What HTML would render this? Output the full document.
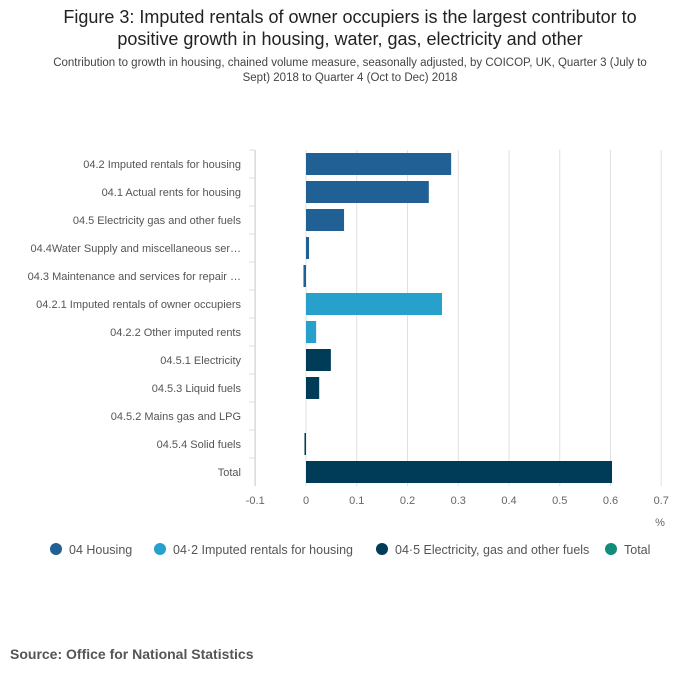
<!DOCTYPE html>
<html><head><meta charset="utf-8">
<style>
body{margin:0;background:#fff;font-family:"Liberation Sans",sans-serif;}
#wrap{position:relative;width:700px;height:682px;overflow:hidden;}
h1{position:absolute;left:40px;top:6px;width:620px;margin:0;text-align:center;font-size:18px;font-weight:normal;color:#222;line-height:22px;}
.sub{position:absolute;left:50px;top:56px;width:600px;text-align:center;font-size:11.5px;color:#444;line-height:15px;}
.src{position:absolute;left:10px;top:646px;font-size:14px;font-weight:bold;color:#555;}
</style></head><body>
<div id="wrap">
<h1>Figure 3: Imputed rentals of owner occupiers is the largest contributor to positive growth in housing, water, gas, electricity and other</h1>
<div class="sub">Contribution to growth in housing, chained volume measure, seasonally adjusted, by COICOP, UK, Quarter 3 (July to Sept) 2018 to Quarter 4 (Oct to Dec) 2018</div>
<svg id="chart" width="700" height="682" style="position:absolute;left:0;top:0"></svg>
<div class="src">Source: Office for National Statistics</div>
</div>
<script>
const categories=["04.2 Imputed rentals for housing","04.1 Actual rents for housing","04.5 Electricity gas and other fuels","04.4Water Supply and miscellaneous ser…","04.3 Maintenance and services for repair …","04.2.1 Imputed rentals of owner occupiers","04.2.2 Other imputed rents","04.5.1 Electricity","04.5.3 Liquid fuels","04.5.2 Mains gas and LPG","04.5.4 Solid fuels","Total"];
const values=[0.286,0.242,0.075,0.006,-0.005,0.268,0.02,0.049,0.026,0,-0.003,0.603];
const groups=[0,0,0,0,0,1,1,2,2,2,2,2];
const ticks=[-0.1,0,0.1,0.2,0.3,0.4,0.5,0.6,0.7];
const tickLabels=["-0.1","0","0.1","0.2","0.3","0.4","0.5","0.6","0.7"];
const legendLabels=["04 Housing","04·2 Imputed rentals for housing","04·5 Electricity, gas and other fuels","Total"];
const colors=["#206095","#27a0cc","#003c57","#118c7b"];
const svg=document.getElementById('chart');
const NS="http://www.w3.org/2000/svg";
const x=v=>306+(v)*507.5;
const y=i=>150+i*28;
function mk(t,a){const e=document.createElementNS(NS,t);for(const k in a)e.setAttribute(k,a[k]);svg.appendChild(e);return e;}
ticks.forEach((t,i)=>{
 const g=mk('line',{x1:x(t),x2:x(t),y1:150,y2:486,stroke:'#e0e0e0','stroke-width':1});
 
 
 const tl=mk('text',{x:x(t),y:504,'text-anchor':'middle','font-size':11,fill:'#666'});
 tl.textContent=tickLabels[i];
 
 
});
const ax=mk('line',{x1:255,x2:255,y1:150,y2:486,stroke:'#ccc'});


const unit=mk('text',{x:660,y:526,'text-anchor':'middle','font-size':11,fill:'#666'});
unit.textContent='%';


categories.forEach((c,i)=>{
 const tk=mk('line',{x1:249,x2:255,y1:y(i),y2:y(i),stroke:'#ddd'});
 
 
 const t=mk('text',{x:241,y:y(i)+18,'text-anchor':'end','font-size':11,fill:'#555'});
 t.textContent=c;
 
 
 const v=values[i];
 const b=mk('rect',{x:Math.min(x(0),x(v)),y:y(i)+3,width:Math.max(Math.abs(x(v)-x(0)),0.01),height:22,fill:colors[groups[i]]});
 
 
});
const lx=[56,160,382,611];
legendLabels.forEach((l,i)=>{
 const c=mk('circle',{cx:lx[i],cy:549,r:6,fill:colors[i]});
 
 
 const t=mk('text',{x:lx[i]+13,y:554,'font-size':12.5,fill:'#555'});
 t.textContent=l;
 
 
});
</script>
</body></html>
